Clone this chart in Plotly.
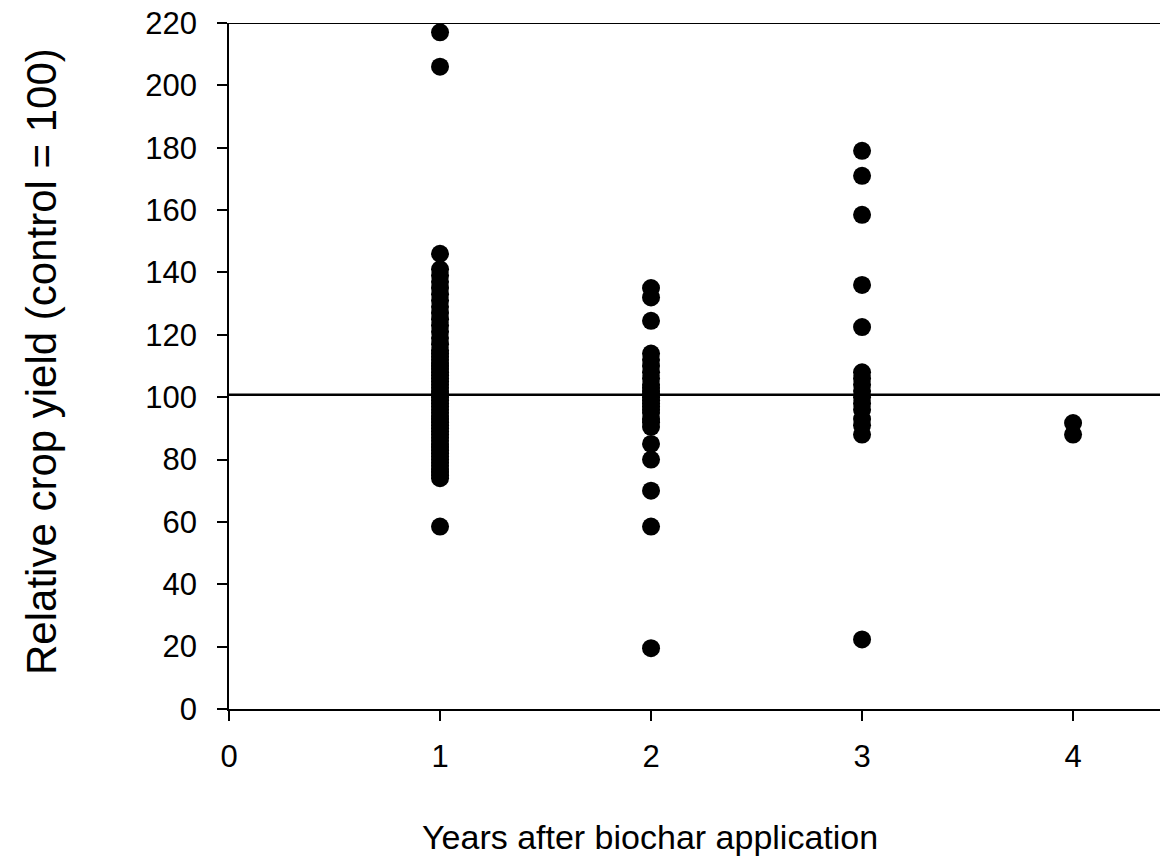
import plotly.graph_objects as go

# Data
year1 = [217, 206, 146, 141, 139, 137, 135, 133, 131, 129, 127, 125, 123, 121, 119,
         117, 115, 114, 113, 112, 111, 110, 109, 108, 107, 106, 105, 104, 103, 102,
         101, 100, 99, 98, 97, 96, 95, 94, 93, 92, 91, 90, 89, 88, 87, 86, 85, 84,
         83, 82, 81, 80, 79, 78, 77, 76, 75, 74, 58.5]
year2 = [135, 132, 124.5, 114, 112, 110, 108, 106, 104, 103, 102, 101, 100, 99, 98,
         97, 96, 95, 93, 92, 90.5, 85, 80, 70, 58.5, 19.5]
year3 = [179, 171, 158.5, 136, 122.5, 108, 106, 104, 102, 100, 98, 96, 93, 91, 88, 22.3]
year4 = [91.7, 88]
groups = [1, 2, 3, 4]
ref_line = 100.8

x_ticks = [0, 1, 2, 3, 4]
y_ticks = list(range(0, 221, 20))

xs, ys = [], []
for g, vals in zip(groups, [year1, year2, year3, year4]):
    xs += [g] * len(vals)
    ys += vals

FONT = "Liberation Sans, Arial, sans-serif"

W, H = 1160, 861
L, T, B = 229, 23, 152
PW, PH = W - L, H - T - B

fig = go.Figure()
fig.add_trace(go.Scatter(
    x=xs, y=ys, mode="markers",
    marker=dict(color="black", size=18, line=dict(width=0)),
    cliponaxis=False, showlegend=False,
))

# reference line and top frame line
fig.add_shape(type="line", xref="paper", x0=0, x1=1, yref="y", y0=ref_line, y1=ref_line,
              line=dict(color="black", width=2.5))
fig.add_shape(type="line", xref="paper", x0=0, x1=1, yref="y", y0=220, y1=220,
              line=dict(color="black", width=2))

fig.update_layout(
    width=W, height=H,
    margin=dict(l=L, r=0, t=T, b=B, pad=0),
    plot_bgcolor="white", paper_bgcolor="white",
    font=dict(family=FONT, color="black", size=30),
    xaxis=dict(range=[0, 4.412], tickvals=x_ticks, ticktext=[str(t) for t in x_ticks],
               showgrid=False, zeroline=False, showline=True, linecolor="black",
               linewidth=2, ticks="outside", ticklen=10, tickwidth=1.5,
               tickcolor="black", tickfont=dict(size=31, family=FONT),
               ticklabelstandoff=9),
    yaxis=dict(range=[0, 220], tickvals=y_ticks, showgrid=False, zeroline=False,
               showline=True, linecolor="black", linewidth=1.5, ticks="outside",
               ticklen=10, tickwidth=1.5, tickcolor="black",
               tickfont=dict(size=31, family=FONT), ticklabelstandoff=14,
               ticklabeloverflow="allow"),
    annotations=[
        dict(text="Years after biochar application", xref="paper", yref="paper",
             x=(650 - L) / PW, y=-(837 - (T + PH)) / PH, xanchor="center", yanchor="middle",
             showarrow=False, font=dict(size=34, family=FONT)),
        dict(text="Relative crop yield (control = 100)", xref="paper", yref="paper",
             x=-(L - 41) / PW, y=((T + PH) - 362) / PH, xanchor="center", yanchor="middle",
             textangle=-90, showarrow=False, font=dict(size=42, family=FONT)),
    ],
)

fig.write_html("out.html", config={"displayModeBar": False},
               post_script="document.body.style.margin='0px';")
